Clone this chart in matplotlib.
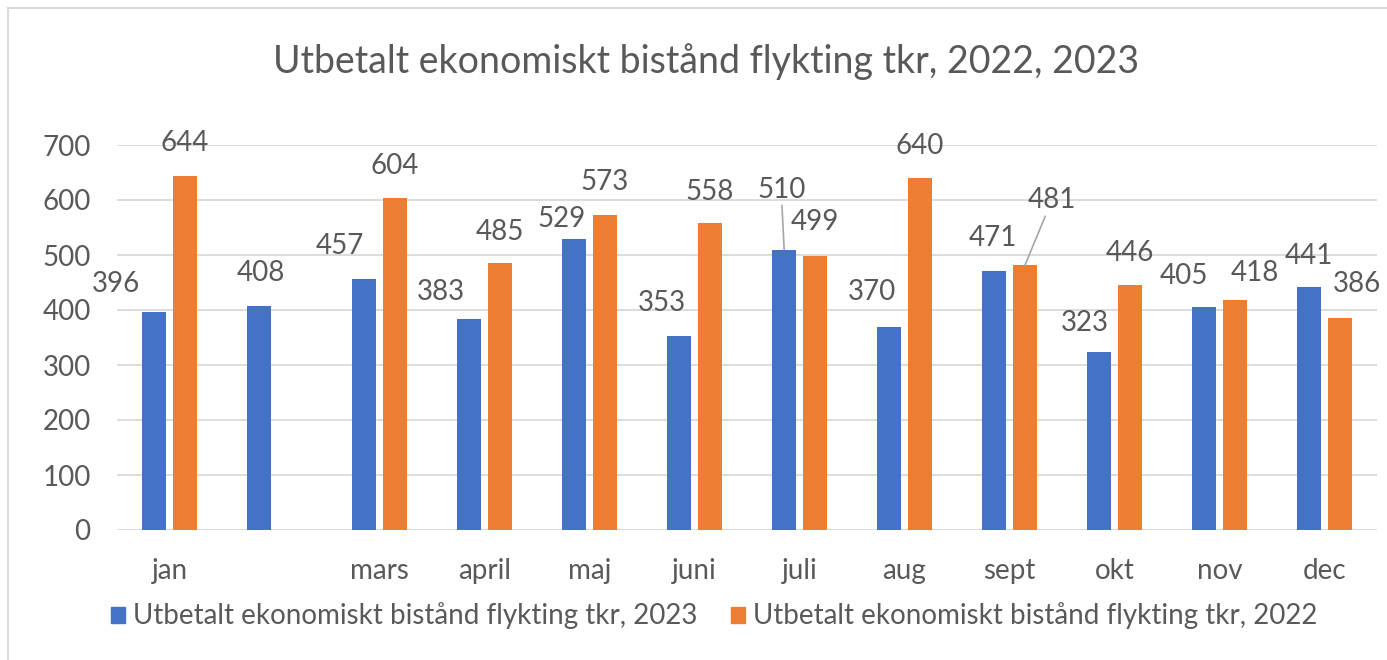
import numpy as np
import matplotlib
matplotlib.use("Agg")
import matplotlib.pyplot as plt
from matplotlib.lines import Line2D
from matplotlib.patches import Patch

# Data
months = ["jan", "", "mars", "april", "maj", "juni", "juli", "aug", "sept", "okt", "nov", "dec"]
values_2023 = [396, 408, 457, 383, 529, 353, 510, 370, 471, 323, 405, 441]
values_2022 = [644, np.nan, 604, 485, 573, 558, 499, 640, 481, 446, 418, 386]
series_names = [
    "Utbetalt ekonomiskt bistånd flykting tkr, 2023",
    "Utbetalt ekonomiskt bistånd flykting tkr, 2022",
]

# label offsets from bar top (pixels, dx right / dy up), as placed in the original
offsets_2023 = [(-38, 28), (2, 33), (-24, 33), (-28, 27), (-13, 20), (-17, 33),
                (-3, 60), (-17, 34), (-1, 33), (-14, 29), (-20, 31), (0, 31)]
offsets_2022 = [(0, 33), None, (0, 32), (0, 31), (0, 33), (0, 31),
                (0, 34), (0, 32), (27, 65), (0, 32), (20, 27), (17, 34)]
leader_2023 = {6}
leader_2022 = {8}

BLUE = "#4472C4"
ORANGE = "#ED7D31"
TEXT = "#595959"
GRID = "#D9D9D9"

plt.rcParams["font.family"] = ["Lato", "DejaVu Sans"]

fig = plt.figure(figsize=(13.87, 6.6), dpi=100)
ax = fig.add_axes([117 / 1387, 130 / 660, 1260 / 1387, 385 / 660])

x = np.arange(len(months))
width = 0.224
shift = 0.146
ax.bar(x - shift, values_2023, width, color=BLUE, zorder=3)
ax.bar(x + shift, values_2022, width, color=ORANGE, zorder=3)

px = 72 / fig.dpi


def add_labels(xs, vals, offs, leaders):
    for i, (xi, v, off) in enumerate(zip(xs, vals, offs)):
        if off is None or np.isnan(v):
            continue
        kw = {}
        if i in leaders:
            kw["arrowprops"] = dict(arrowstyle="-", color="#A6A6A6", lw=1.2,
                                    shrinkA=0, shrinkB=0)
        ax.annotate(f"{int(v)}", xy=(xi, v), xytext=(off[0] * px, off[1] * px),
                    textcoords="offset points", ha="center", va="center",
                    fontsize=20, color=TEXT, zorder=4, **kw)


add_labels(x - shift, values_2023, offsets_2023, leader_2023)
add_labels(x + shift, values_2022, offsets_2022, leader_2022)

ax.set_xlim(-0.5, len(months) - 0.5)
ax.set_ylim(0, 700)
ax.set_yticks(range(0, 701, 100))
ax.set_xticks(x)
ax.set_xticklabels(months)
ax.tick_params(axis="both", length=0, labelsize=20, labelcolor=TEXT)
ax.tick_params(axis="y", pad=19)
ax.tick_params(axis="x", pad=20)
ax.grid(axis="y", color=GRID, lw=1.3, zorder=0)
ax.set_axisbelow(True)
for s in ax.spines.values():
    s.set_visible(False)

fig.text(706 / 1387, 1 - 62 / 660, "Utbetalt ekonomiskt bistånd flykting tkr, 2022, 2023",
         ha="center", va="center", fontsize=27, color=TEXT)

handles = [Patch(color=BLUE), Patch(color=ORANGE)]
fig.legend(handles, series_names, loc="center", bbox_to_anchor=(0.515, 1 - 616 / 660),
           ncol=2, frameon=False, fontsize=20, labelcolor=TEXT,
           handlelength=0.5, handleheight=0.5, handletextpad=0.3, columnspacing=1.2)

# chart frame (left and top edges visible)
fig.add_artist(Line2D([8 / 1387, 8 / 1387], [0, 1 - 8 / 660], color=GRID, lw=1.5))
fig.add_artist(Line2D([8 / 1387, 1], [1 - 8 / 660, 1 - 8 / 660], color=GRID, lw=1.5))

fig.savefig("out.png", dpi=100)
